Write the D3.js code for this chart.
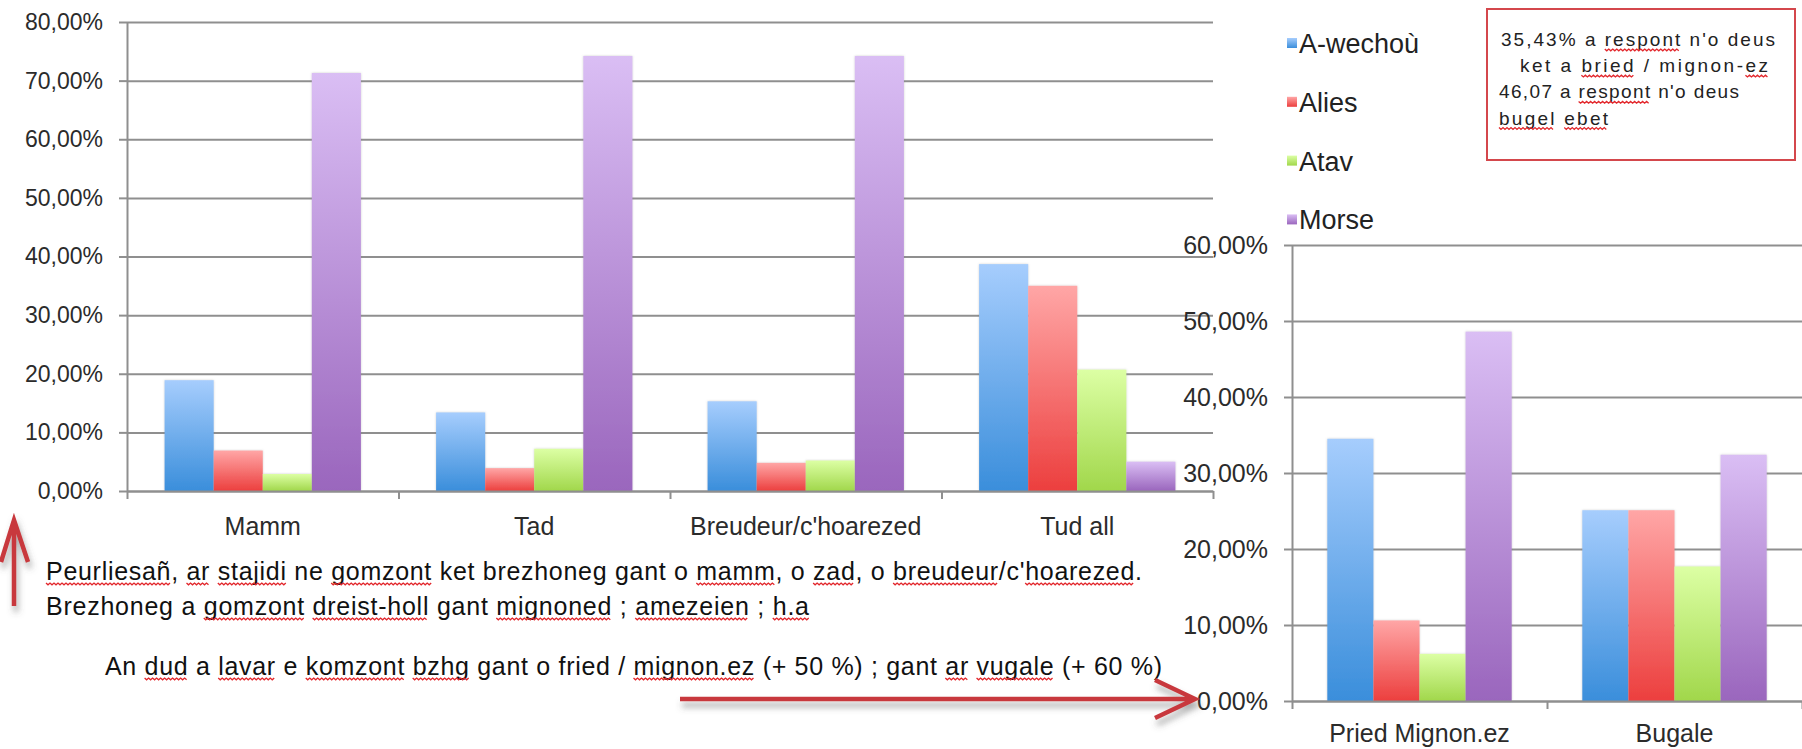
<!DOCTYPE html>
<html>
<head>
<meta charset="utf-8">
<script src="https://cdn.jsdelivr.net/npm/d3@7"></script>
<style>
  body { margin: 0; background: #fff; }
  svg { display: block; font-family: "Liberation Sans", Arial, sans-serif; }
</style>
</head>
<body>
<script>

// data (percent)
var seriesNames = ["A-wechoù", "Alies", "Atav", "Morse"];

var leftCategories = ["Mamm", "Tad", "Breudeur/c'hoarezed", "Tud all"];
var leftAwechou = [18.9, 13.4, 15.3, 38.7];
var leftAlies = [6.9, 3.9, 4.8, 35.0];
var leftAtav = [2.9, 7.2, 5.2, 20.7];
var leftMorse = [71.3, 74.2, 74.2, 5.0];
var leftTicks = [0, 10, 20, 30, 40, 50, 60, 70, 80];

var rightCategories = ["Pried Mignon.ez", "Bugale"];
var rightAwechou = [34.5, 25.1];
var rightAlies = [10.6, 25.1];
var rightAtav = [6.2, 17.7];
var rightMorse = [48.6, 32.4];
var rightTicks = [0, 10, 20, 30, 40, 50, 60];

var noteLines = ["35,43% a respont n'o deus", "ket a bried / mignon-ez", "46,07 a respont n'o deus", "bugel ebet"];
var noteFlagged = [["respont"], ["bried", "ez"], ["respont"], ["bugel", "ebet"]];

var commentLines = [
    "Peurliesañ, ar stajidi ne gomzont ket brezhoneg gant o mamm, o zad, o breudeur/c'hoarezed.",
    "Brezhoneg a gomzont dreist-holl gant mignoned ; amezeien ; h.a",
    "An dud a lavar e komzont bzhg gant o fried / mignon.ez (+ 50 %) ; gant ar vugale (+ 60 %)"
];
var commentFlagged = [
    ["Peurliesañ", "ar", "stajidi", "gomzont", "mamm", "zad", "breudeur", "hoarezed"],
    ["gomzont", "dreist-holl", "mignoned", "amezeien", "h.a"],
    ["dud", "lavar", "komzont", "bzhg", "mignon.ez", "ar", "vugale"]
];

var gradTop = ["#a6cdfd", "#ffa6a6", "#dcffa4", "#dabef4"];
var gradBottom = ["#3a8edb", "#ec3f3e", "#a1d74b", "#9a66bd"];
var gridColor = "#8f8f8f";
var red = "#c8393e";

var width = 1802, height = 749;

var svg = d3.select("body").append("svg")
    .attr("width", width)
    .attr("height", height);

var defs = svg.append("defs");
seriesNames.forEach(function (s, i) {
    var lg = defs.append("linearGradient").attr("id", "grad" + i)
        .attr("x1", 0).attr("y1", 0).attr("x2", 0).attr("y2", 1);
    lg.append("stop").attr("offset", "0%").attr("stop-color", gradTop[i]);
    lg.append("stop").attr("offset", "100%").attr("stop-color", gradBottom[i]);
});
defs.append("filter").attr("id", "shadow")
    .attr("x", "-30%").attr("y", "-30%").attr("width", "160%").attr("height", "180%")
    .append("feDropShadow")
    .attr("dx", 2).attr("dy", 6).attr("stdDeviation", 3)
    .attr("flood-color", "#555").attr("flood-opacity", 0.5);
defs.append("filter").attr("id", "barShadow")
    .attr("x", "-10%").attr("y", "-5%").attr("width", "120%").attr("height", "110%")
    .append("feDropShadow")
    .attr("dx", 0).attr("dy", 0).attr("stdDeviation", 1.2)
    .attr("flood-color", "#777").attr("flood-opacity", 0.35);

var pct = d3.formatLocale({ decimal: ",", thousands: " ", grouping: [3], currency: ["", "€"] }).format(".2%");

function drawChart(cfg) {
    var n = cfg.categories.length;
    var x0 = d3.scaleBand().domain(cfg.categories)
        .range([cfg.left, cfg.right])
        .paddingInner(0.277).paddingOuter(0.1385);
    var x1 = d3.scaleBand().domain(seriesNames).range([0, x0.bandwidth()]);
    var y = d3.scaleLinear().domain([0, cfg.max]).range([cfg.bottom, cfg.top]);

    var g = svg.append("g").attr("class", "chart");

    // horizontal gridlines
    g.append("g").attr("class", "grid")
        .attr("transform", "translate(" + cfg.left + ",0)")
        .call(d3.axisLeft(y).tickValues(cfg.ticks).tickSize(-(cfg.right - cfg.left)).tickFormat(""))
        .call(function (a) {
            a.select(".domain").remove();
            a.selectAll("line").attr("stroke", gridColor).attr("stroke-width", 2);
        });

    // bars
    var rows = cfg.categories.map(function (c, i) {
        return { cat: c, vals: cfg.series.map(function (s) { return s[i]; }) };
    });
    g.selectAll(".group")
        .data(rows)
        .enter().append("g")
        .attr("class", "group")
        .attr("filter", "url(#barShadow)")
        .attr("transform", function (d) { return "translate(" + x0(d.cat) + ",0)"; })
        .selectAll("rect")
        .data(function (d) { return d.vals; })
        .enter().append("rect")
        .attr("x", function (d, i) { return x1(seriesNames[i]); })
        .attr("width", x1.bandwidth())
        .attr("y", function (d) { return y(d); })
        .attr("height", function (d) { return cfg.bottom - y(d); })
        .attr("fill", function (d, i) { return "url(#grad" + i + ")"; });

    // y axis
    var ya = g.append("g")
        .attr("transform", "translate(" + cfg.left + ",0)")
        .call(d3.axisLeft(y).tickValues(cfg.ticks).tickSize(8).tickSizeOuter(0).tickPadding(16)
            .tickFormat(function (d) { return pct(d / 100); }));
    ya.attr("font-family", null).attr("font-size", cfg.yFont);
    ya.select(".domain").attr("stroke", gridColor).attr("stroke-width", 2);
    ya.selectAll("line").attr("stroke", gridColor).attr("stroke-width", 2);
    ya.selectAll("text").attr("fill", "#2b2b2b");

    // x axis, ticks on band boundaries
    var xb = d3.scaleLinear().domain([0, n]).range([cfg.left, cfg.right]);
    var xa = g.append("g")
        .attr("transform", "translate(0," + cfg.bottom + ")")
        .call(d3.axisBottom(xb).tickValues(d3.range(n + 1)).tickSize(8).tickSizeOuter(0).tickFormat(""));
    xa.select(".domain").attr("stroke", gridColor).attr("stroke-width", 2);
    xa.selectAll("line").attr("stroke", gridColor).attr("stroke-width", 2);

    var xl = g.append("g")
        .attr("transform", "translate(0," + cfg.bottom + ")")
        .call(d3.axisBottom(x0).tickSize(0));
    xl.select(".domain").remove();
    xl.attr("font-family", null).attr("font-size", cfg.xFont);
    xl.selectAll("text").attr("y", cfg.labelOffset).attr("dy", 0).attr("fill", "#2b2b2b");
}

drawChart({
    categories: leftCategories,
    series: [leftAwechou, leftAlies, leftAtav, leftMorse],
    ticks: leftTicks, max: 80,
    left: 127, right: 1213, top: 22, bottom: 491,
    labelOffset: 44, yFont: 23, xFont: 25
});

drawChart({
    categories: rightCategories,
    series: [rightAwechou, rightAlies, rightAtav, rightMorse],
    ticks: rightTicks, max: 60,
    left: 1292, right: 1802, top: 245, bottom: 701,
    labelOffset: 41, yFont: 25, xFont: 25
});

// legend
var legend = svg.append("g").attr("class", "legend")
    .attr("transform", "translate(1287,0)");
var li = legend.selectAll(".item")
    .data(seriesNames)
    .enter().append("g")
    .attr("class", "item")
    .attr("transform", function (d, i) { return "translate(0," + (53 + i * 58.8) + ")"; });
li.append("rect")
    .attr("x", 0).attr("y", -15).attr("width", 10).attr("height", 10)
    .attr("fill", function (d, i) { return "url(#grad" + i + ")"; });
li.append("text")
    .attr("x", 12)
    .attr("font-size", 27)
    .attr("fill", "#222")
    .text(function (d) { return d; });

// spell-check squiggles under flagged words
function squiggle(parent, node, line, words) {
    var from = 0;
    words.forEach(function (w) {
        var i = line.indexOf(w, from);
        if (i < 0) return;
        from = i + w.length;
        var s = node.getStartPositionOfChar(i);
        var e = node.getEndPositionOfChar(i + w.length - 1);
        var pts = [];
        for (var x = s.x, k = 0; x <= e.x; x += 2, k++) {
            pts.push([x, s.y + 3 + (k % 2 ? 1.8 : 0)]);
        }
        parent.append("path")
            .attr("d", d3.line()(pts))
            .attr("fill", "none")
            .attr("stroke", "#e2262b")
            .attr("stroke-width", 1.3);
    });
}

// note box
var note = svg.append("g").attr("class", "note");
note.append("rect")
    .attr("x", 1487).attr("y", 9).attr("width", 308).attr("height", 151)
    .attr("fill", "#fff").attr("stroke", "#d4474c").attr("stroke-width", 2);
var noteX = [1501, 1520, 1499, 1499];
var noteW = [274, 248, 240, 109];
noteLines.forEach(function (t, i) {
    var tx = note.append("text")
        .attr("x", noteX[i]).attr("y", 46 + i * 26.2)
        .attr("font-size", 19)
        .attr("fill", "#222")
        .attr("textLength", noteW[i]).attr("lengthAdjust", "spacing")
        .text(t);
    squiggle(note, tx.node(), t, noteFlagged[i]);
});

// comments under the left chart
var comments = svg.append("g").attr("class", "comments");
var commentX = [46, 46, 105];
var commentY = [580, 615, 675];
var commentW = [1096, 763, 1057];
commentLines.forEach(function (t, i) {
    var tx = comments.append("text")
        .attr("x", commentX[i]).attr("y", commentY[i])
        .attr("font-size", 25)
        .attr("fill", "#111")
        .attr("textLength", commentW[i]).attr("lengthAdjust", "spacing")
        .text(t);
    squiggle(comments, tx.node(), t, commentFlagged[i]);
});

// red arrows
var arrows = svg.append("g").attr("class", "arrows")
    .attr("filter", "url(#shadow)")
    .attr("fill", "none").attr("stroke", red).attr("stroke-width", 4.5);
arrows.append("path").attr("d", "M14,606 L14,521 M1,562 L14,520 L28,562");
arrows.append("path").attr("d", "M680,699 L1192,699 M1155,680 L1195,699 L1155,718");

</script>
</body>
</html>
